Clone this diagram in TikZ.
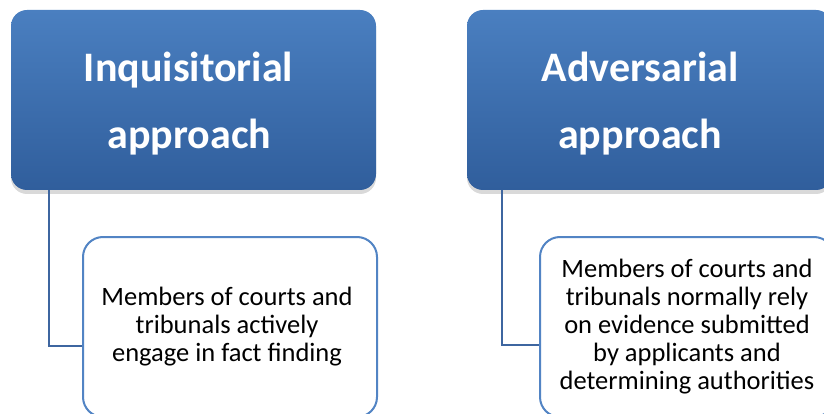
\documentclass[tikz,border=0pt]{standalone}
\usepackage{fontspec}
\setmainfont{Carlito}
\usetikzlibrary{positioning, shadows}

\definecolor{headtop}{RGB}{74,127,192}
\definecolor{headbot}{RGB}{48,94,156}
\definecolor{descline}{RGB}{82,132,196}
\definecolor{linkline}{RGB}{62,102,160}

\begin{document}
\begin{tikzpicture}[x=1pt, y=-1pt,
    headbox/.style={rounded corners=16pt, top color=headtop, bottom color=headbot,
                    minimum width=365pt, minimum height=180pt, text=white, align=center,
                    text depth=0pt, font=\fontsize{42}{67}\selectfont\bfseries,
                    drop shadow={shadow xshift=0pt, shadow yshift=-4pt, opacity=0.3}},
    descbox/.style={draw=descline, line width=2pt, rounded corners=20pt, fill=white,
                    minimum width=294pt, minimum height=180pt, align=center,
                    font=\fontsize{26.5}{28}\selectfont},
    link/.style={draw=linkline, line width=2pt}]

    % Page
    \useasboundingbox (0,0) rectangle (824,414);
    \clip (0,0) rectangle (824,414);

    % Headings
    \node[headbox] (inq) at (193.5,100) {Inquisitorial\kern10pt\\approach\kern8pt};
    \node[headbox] (adv) at (649.5,100) {Adversarial\kern19pt\\approach\kern19pt};

    % Descriptions
    \node[descbox] (inqdesc) at (230,327) {Members of courts and\kern6pt\\tribunals actively\kern6pt\\engage in fact finding\kern6pt};
    \node[descbox] (advdesc) at (687,327) {Members of courts and\\tribunals normally rely\\on evidence submitted\\by applicants and\\determining authorities};

    % Connectors
    \draw[link] ([xshift=38pt]inq.south west) |- ([yshift=72pt]inqdesc.south west);
    \draw[link] ([xshift=35pt]adv.south west) |- ([yshift=73pt]advdesc.south west);

\end{tikzpicture}
\end{document}
